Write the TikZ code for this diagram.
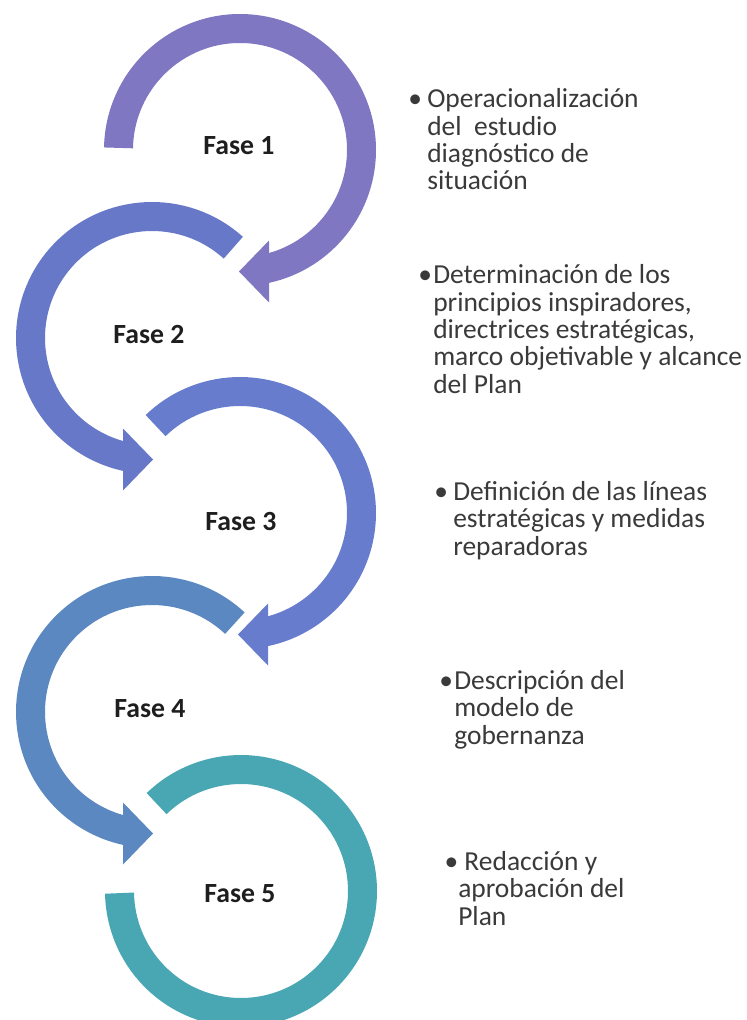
\documentclass[tikz,border=0pt]{standalone}
\usepackage{fontspec}
\setmainfont{Carlito}
\usepackage{tikz}
\usetikzlibrary{calc}
\definecolor{faseOne}{RGB}{128,119,194}
\definecolor{faseTwo}{RGB}{104,120,200}
\definecolor{faseThree}{RGB}{103,124,205}
\definecolor{faseFour}{RGB}{91,136,192}
\definecolor{faseFive}{RGB}{72,167,179}
\definecolor{faseInk}{RGB}{30,30,30}
\definecolor{faseGrey}{RGB}{58,58,58}
\tikzset{
  faseArc/.style={line width=21.75pt},
  faseLabel/.style={anchor=base, inner sep=0pt, font=\fontsize{20.8}{22}\selectfont\bfseries, text=faseInk},
  faseText/.style={anchor=base west, inner sep=0pt, align=left, font=\fontsize{20.6}{20.5}\selectfont, text=faseGrey}
}

\begin{document}
\begin{tikzpicture}[x=0.75pt, y=0.75pt]
      \useasboundingbox (0,0) rectangle (746,-1020);
      \coordinate (c1) at (240,-150);
      \coordinate (c2) at (152,-338);
      \coordinate (c3) at (240,-513);
      \coordinate (c4) at (152,-712);
      \coordinate (c5) at (241,-891);
      % ring arrows
      \draw[faseArc, faseOne] ($(c1)+(179:121.5)$) arc[start angle=179, end angle=-80, radius=121.5];
      \fill[faseOne] ($(c1)+(-1,-121.5)$) -- ++(30,31) -- ++(0,-62) -- cycle;
      \draw[faseArc, faseTwo] ($(c2)+(48:121.5)$) arc[start angle=48, end angle=260, radius=121.5];
      \fill[faseTwo] ($(c2)+(1,-121.5)$) -- ++(-30,31) -- ++(0,-62) -- cycle;
      \draw[faseArc, faseThree] ($(c3)+(134:121.5)$) arc[start angle=134, end angle=-80, radius=121.5];
      \fill[faseThree] ($(c3)+(-2,-121.5)$) -- ++(30,31) -- ++(0,-62) -- cycle;
      \draw[faseArc, faseFour] ($(c4)+(47:121.5)$) arc[start angle=47, end angle=260, radius=121.5];
      \fill[faseFour] ($(c4)+(1,-121.5)$) -- ++(-30,31) -- ++(0,-62) -- cycle;
      \draw[faseArc, faseFive] ($(c5)+(134:121.5)$) arc[start angle=134, end angle=-179, radius=121.5];
      % labels
      \node[faseLabel] (fase1) at (239,-155) {Fase 1};
      \node[faseLabel] (fase2) at (149,-343) {Fase 2};
      \node[faseLabel] (fase3) at (241,-530) {Fase 3};
      \node[faseLabel] (fase4) at (150,-717) {Fase 4};
      \node[faseLabel] (fase5) at (240,-902) {Fase 5};
      % descriptions (anchored on the baseline of their last line)
      \node[faseText] (text1) at (427,-190) {\llap{\textbullet\hspace{4pt}}Operacionalización\\del\ \ estudio\\diagnóstico de\\situación};
      \node[faseText] (text2) at (433,-393) {\llap{\textbullet\hspace{1pt}}Determinación de los\\principios inspiradores,\\directrices estratégicas,\\marco objetivable y alcance\\del Plan};
      \node[faseText] (text3) at (453,-555) {\llap{\textbullet\hspace{4pt}}Definición de las líneas\\estratégicas y medidas\\reparadoras};
      \node[faseText] (text4) at (454,-744) {\llap{\textbullet\hspace{1pt}}Descripción del\\modelo de\\gobernanza};
      \node[faseText] (text5) at (458,-925) {\llap{\textbullet}\ Redacción y\\aprobación del\\Plan};
    \end{tikzpicture}
\end{document}
